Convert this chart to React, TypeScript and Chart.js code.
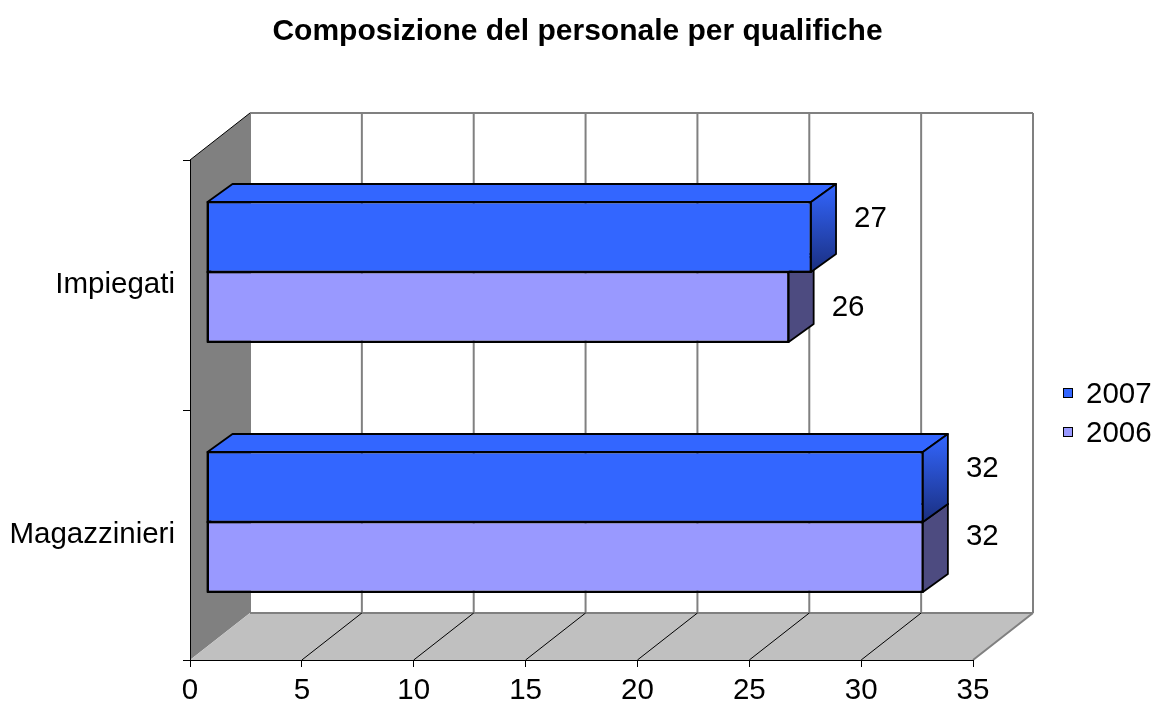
import React, { useEffect, useRef } from "react";
import { Chart, registerables } from "chart.js";

Chart.register(...registerables);

const TITLE = "Composizione del personale per qualifiche";
const categories = ["Impiegati", "Magazzinieri"];
const seriesNames = ["2007", "2006"];
const values2007 = [27, 32];
const values2006 = [26, 32];
const xMin = 0;
const xMax = 35;
const xStep = 5;

const FONT = "'Liberation Sans', Arial, Helvetica, sans-serif";
const FRONT_COLORS = ["#3366ff", "#9999ff"];

// 3D geometry (pixels)
const WALL_DX = 60;
const WALL_DY = -47;
const BAR_SHIFT_X = 17;
const BAR_SHIFT_Y = -13;
const BAR_DEPTH_X = 25;
const BAR_DEPTH_Y = -18;

const threeD = {
  id: "threeD",
  beforeDraw(chart: any) {
    const { ctx, chartArea } = chart;
    const { left: L, right: R, top: T, bottom: B } = chartArea;
    const xs = chart.scales.x;
    const ticks: number[] = [];
    for (let v = xMin; v <= xMax + 1e-9; v += xStep) ticks.push(v);
    ctx.save();
    // back wall
    ctx.fillStyle = "#ffffff";
    ctx.fillRect(L + WALL_DX, T + WALL_DY, R - L, B - T);
    ctx.strokeStyle = "#808080";
    ctx.lineWidth = 2;
    for (const v of ticks) {
      const px = xs.getPixelForValue(v) + WALL_DX;
      ctx.beginPath();
      ctx.moveTo(px, T + WALL_DY);
      ctx.lineTo(px, B + WALL_DY);
      ctx.stroke();
    }
    ctx.beginPath();
    ctx.moveTo(L + WALL_DX, T + WALL_DY);
    ctx.lineTo(R + WALL_DX, T + WALL_DY);
    ctx.stroke();
    // left wall
    ctx.fillStyle = "#808080";
    ctx.beginPath();
    ctx.moveTo(L, T);
    ctx.lineTo(L + WALL_DX, T + WALL_DY);
    ctx.lineTo(L + WALL_DX, B + WALL_DY);
    ctx.lineTo(L, B);
    ctx.closePath();
    ctx.fill();
    ctx.strokeStyle = "#000000";
    ctx.lineWidth = 1;
    ctx.beginPath();
    ctx.moveTo(L, T);
    ctx.lineTo(L + WALL_DX, T + WALL_DY);
    ctx.stroke();
    // floor
    ctx.fillStyle = "#c0c0c0";
    ctx.beginPath();
    ctx.moveTo(L, B);
    ctx.lineTo(R, B);
    ctx.lineTo(R + WALL_DX, B + WALL_DY);
    ctx.lineTo(L + WALL_DX, B + WALL_DY);
    ctx.closePath();
    ctx.fill();
    ctx.strokeStyle = "#808080";
    ctx.lineWidth = 2;
    ctx.beginPath();
    ctx.moveTo(L + WALL_DX, B + WALL_DY);
    ctx.lineTo(R + WALL_DX, B + WALL_DY);
    ctx.moveTo(R, B);
    ctx.lineTo(R + WALL_DX, B + WALL_DY);
    ctx.stroke();
    ctx.strokeStyle = "#000000";
    ctx.lineWidth = 1;
    for (const v of ticks) {
      if (v === xMin || v === xMax) continue;
      const px = xs.getPixelForValue(v);
      ctx.beginPath();
      ctx.moveTo(px, B);
      ctx.lineTo(px + WALL_DX, B + WALL_DY);
      ctx.stroke();
    }
    ctx.restore();
  },
  beforeDatasetsDraw(chart: any) {
    chart.ctx.save();
    chart.ctx.translate(BAR_SHIFT_X, BAR_SHIFT_Y);
  },
  afterDatasetDraw(chart: any, args: any) {
    const { ctx } = chart;
    const meta = args.meta;
    const di = args.index;
    meta.data.forEach((el: any) => {
      const p = el.getProps(["x", "y", "base", "height"], true);
      const left = Math.min(p.x, p.base);
      const right = Math.max(p.x, p.base);
      const top = p.y - p.height / 2;
      const bottom = p.y + p.height / 2;
      ctx.save();
      ctx.strokeStyle = "#000000";
      ctx.lineWidth = 1.8;
      ctx.lineJoin = "round";
      // front outline (thicker, like the reference)
      ctx.strokeRect(left, top, right - left, bottom - top);
      // top face
      ctx.fillStyle = FRONT_COLORS[di];
      ctx.beginPath();
      ctx.moveTo(left, top);
      ctx.lineTo(left + BAR_DEPTH_X, top + BAR_DEPTH_Y);
      ctx.lineTo(right + BAR_DEPTH_X, top + BAR_DEPTH_Y);
      ctx.lineTo(right, top);
      ctx.closePath();
      ctx.fill();
      ctx.stroke();
      // side face
      if (di === 0) {
        const g = ctx.createLinearGradient(0, top + BAR_DEPTH_Y, 0, bottom);
        g.addColorStop(0, "#3366ff");
        g.addColorStop(1, "#1a2f80");
        ctx.fillStyle = g;
      } else {
        ctx.fillStyle = "#4d4b80";
      }
      ctx.beginPath();
      ctx.moveTo(right, top);
      ctx.lineTo(right + BAR_DEPTH_X, top + BAR_DEPTH_Y);
      ctx.lineTo(right + BAR_DEPTH_X, bottom + BAR_DEPTH_Y);
      ctx.lineTo(right, bottom);
      ctx.closePath();
      ctx.fill();
      ctx.stroke();
      ctx.restore();
    });
  },
  afterDatasetsDraw(chart: any) {
    const { ctx } = chart;
    ctx.restore();
    // data labels
    ctx.save();
    ctx.fillStyle = "#000000";
    ctx.font = `29.5px ${FONT}`;
    ctx.textAlign = "left";
    ctx.textBaseline = "middle";
    chart.data.datasets.forEach((ds: any, di: number) => {
      const meta = chart.getDatasetMeta(di);
      meta.data.forEach((el: any, i: number) => {
        const p = el.getProps(["x", "y"], true);
        let y = p.y + BAR_SHIFT_Y + BAR_DEPTH_Y;
        if (di === 1 && i === 0) y += 19;
        if (di === 1 && i === 1) y -= 2;
        const x = p.x + BAR_SHIFT_X + BAR_DEPTH_X + 18;
        ctx.fillText(String(ds.data[i]), x, y);
      });
    });
    ctx.restore();
  },
  afterDraw(chart: any) {
    const { ctx, chartArea } = chart;
    ctx.save();
    ctx.font = `29.5px ${FONT}`;
    ctx.textAlign = "left";
    ctx.textBaseline = "middle";
    seriesNames.forEach((name, i) => {
      const bx = chartArea.right + 90;
      const by = 388 + i * 39;
      ctx.fillStyle = FRONT_COLORS[i];
      ctx.fillRect(bx, by, 10, 10);
      ctx.strokeStyle = "#000000";
      ctx.lineWidth = 1;
      ctx.strokeRect(bx + 0.5, by + 0.5, 9, 9);
      ctx.fillStyle = "#000000";
      ctx.fillText(name, bx + 23, by + 7);
    });
    ctx.restore();
  },
};

export default function App() {
  const ref = useRef<HTMLCanvasElement | null>(null);
  useEffect(() => {
    if (!ref.current) return;
    const chart = new Chart(ref.current, {
      type: "bar",
      data: {
        labels: categories,
        datasets: [
          {
            label: seriesNames[0],
            data: values2007,
            backgroundColor: FRONT_COLORS[0],
            borderColor: "#000000",
            borderWidth: 1.5,
            borderSkipped: false,
            clip: false,
          } as any,
          {
            label: seriesNames[1],
            data: values2006,
            backgroundColor: FRONT_COLORS[1],
            borderColor: "#000000",
            borderWidth: 1.5,
            borderSkipped: false,
            clip: false,
          } as any,
        ],
      },
      options: {
        indexAxis: "y",
        responsive: false,
        animation: false,
        events: [],
        categoryPercentage: 0.56,
        barPercentage: 1,
        layout: { padding: 0 },
        plugins: {
          legend: { display: false },
          tooltip: { enabled: false },
          title: {
            display: true,
            text: TITLE,
            color: "#000000",
            font: { family: FONT, size: 30, weight: "bold" },
            padding: { top: 14, bottom: 110 },
          },
        },
        scales: {
          x: {
            type: "linear",
            min: xMin,
            max: xMax,
            ticks: {
              stepSize: xStep,
              color: "#000000",
              font: { family: FONT, size: 29.5 },
              padding: 6,
            },
            grid: { drawOnChartArea: false, drawTicks: true, tickLength: 7, color: "#000000" },
            border: { display: true, color: "#000000", width: 1 },
            afterFit: (s: any) => {
              s.height = 42;
            },
          },
          y: {
            type: "category",
            ticks: {
              color: "#000000",
              font: { family: FONT, size: 29.5 },
              padding: 8,
            },
            grid: { drawOnChartArea: false, drawTicks: true, tickLength: 7, color: "#000000", offset: true },
            border: { display: true, color: "#000000", width: 1 },
            afterFit: (s: any) => {
              s.width = 190;
            },
          },
          legendSpace: {
            type: "linear",
            position: "right",
            display: true,
            ticks: { display: false },
            grid: { display: false, drawTicks: false },
            border: { display: false },
            afterFit: (s: any) => {
              s.width = 182;
            },
          },
        },
      } as any,
      plugins: [threeD],
    });
    return () => chart.destroy();
  }, []);
  return (
    <div style={{ position: "absolute", left: 0, top: 0, width: 1155, height: 702 }}>
      <canvas ref={ref} width={1155} height={702} style={{ display: "block" }} />
    </div>
  );
}
